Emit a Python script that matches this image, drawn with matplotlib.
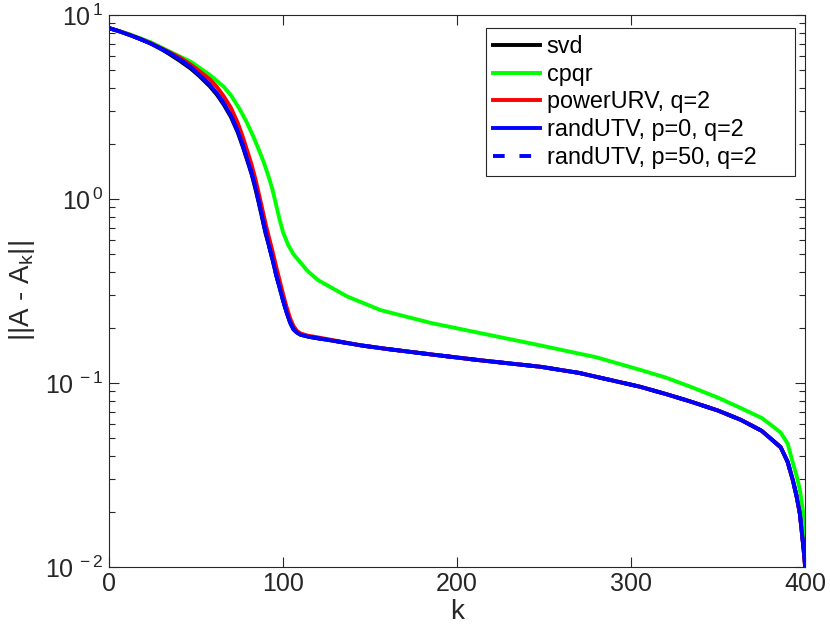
import numpy as np
import matplotlib
matplotlib.use('Agg')
import matplotlib.pyplot as plt
from matplotlib.ticker import LogLocator, FixedLocator, NullFormatter

plt.rcParams['font.family'] = ['Liberation Sans', 'DejaVu Sans']
plt.rcParams['mathtext.fontset'] = 'custom'
plt.rcParams['mathtext.rm'] = 'Liberation Sans'
plt.rcParams['mathtext.default'] = 'regular'

# values
k_utv = [0, 6, 12, 18, 24, 30, 35, 41, 47, 52, 58, 62, 66, 70, 74, 77, 80, 82, 84, 86, 88, 90,
         92, 94, 96, 98, 100, 102, 104, 106, 108, 110, 114, 120, 130, 145, 160, 185, 213, 248,
         270, 305, 320, 334, 350, 363, 375, 380, 386, 390, 393, 395, 397, 399, 400]
utv_p0 = [8.49, 8.15, 7.78, 7.40, 7.00, 6.55, 6.19, 5.71, 5.20, 4.73, 4.17, 3.76, 3.31, 2.85,
          2.34, 1.95, 1.58, 1.38, 1.175, 0.977, 0.804, 0.661, 0.555, 0.468, 0.389, 0.331, 0.282,
          0.243, 0.214, 0.196, 0.188, 0.183, 0.179, 0.175, 0.169, 0.160, 0.153, 0.143, 0.133,
          0.1225, 0.1135, 0.0955, 0.0871, 0.0794, 0.0708, 0.0631, 0.0550, 0.0501, 0.0447, 0.0372,
          0.0295, 0.0245, 0.0195, 0.0129, 0.0101]
utv_p50 = list(utv_p0)

power_urv = [8.49, 8.16, 7.80, 7.42, 7.03, 6.60, 6.26, 5.85, 5.37, 4.95, 4.47, 4.07, 3.61, 3.14,
             2.59, 2.16, 1.76, 1.53, 1.30, 1.08, 0.891, 0.733, 0.615, 0.519, 0.432, 0.363, 0.305,
             0.260, 0.226, 0.204, 0.192, 0.186, 0.181, 0.177, 0.170, 0.160, 0.153, 0.143, 0.133,
             0.1225, 0.1135, 0.0955, 0.0871, 0.0794, 0.0708, 0.0631, 0.0550, 0.0501, 0.0447,
             0.0372, 0.0295, 0.0245, 0.0195, 0.0129, 0.0101]

svd = [8.49, 8.15, 7.78, 7.40, 6.99, 6.53, 6.11, 5.61, 5.11, 4.65, 4.09, 3.69, 3.25, 2.80,
       2.30, 1.91, 1.56, 1.36, 1.15, 0.959, 0.789, 0.649, 0.555, 0.468, 0.389, 0.331, 0.282,
       0.243, 0.214, 0.196, 0.188, 0.183, 0.179, 0.175, 0.169, 0.160, 0.153, 0.143, 0.133,
       0.1225, 0.1135, 0.0955, 0.0871, 0.0794, 0.0708, 0.0631, 0.0550, 0.0501, 0.0447, 0.0372,
       0.0295, 0.0245, 0.0195, 0.0129, 0.0101]

k_cpqr = [0, 12, 24, 35, 47, 58, 66, 70, 75, 79, 83, 86, 89, 92, 94, 96, 98, 100, 103, 106, 110,
          114, 120, 127, 137, 156, 185, 213, 248, 259, 280, 305, 320, 334, 350, 363, 375, 380,
          386, 390, 393, 395, 397, 399, 400]
cpqr = [8.49, 7.85, 7.11, 6.32, 5.57, 4.72, 4.07, 3.67, 3.09, 2.63, 2.18, 1.86, 1.58, 1.30, 1.12,
        0.933, 0.776, 0.661, 0.562, 0.501, 0.452, 0.407, 0.363, 0.333, 0.295, 0.249, 0.212, 0.187,
        0.160, 0.152, 0.138, 0.118, 0.107, 0.0955, 0.0832, 0.0731, 0.0646, 0.0596, 0.0537,
        0.0468, 0.0367, 0.0316, 0.0263, 0.0195, 0.0129]

labels = ['svd', 'cpqr', 'powerURV, q=2', 'randUTV, p=0, q=2', 'randUTV, p=50, q=2']
xticks = [0, 100, 200, 300, 400]
yticks = [1e-2, 1e-1, 1e0, 1e1]
ytick_labels = [r'$10^{\,-2}$', r'$10^{\,-1}$', r'$10^{\,0}$', r'$10^{\,1}$']

dark = '#262626'
fig = plt.figure(figsize=(8.3, 6.36), dpi=100)
ax = fig.add_axes([0.1313, 0.1085, 0.8387, 0.8679])

lw = 2.8
ax.semilogy(k_utv, svd, color='black', lw=lw, label=labels[0])
ax.semilogy(k_cpqr, cpqr, color='#00ff00', lw=lw, label=labels[1])
ax.semilogy(k_utv, power_urv, color='red', lw=lw, label=labels[2])
ax.semilogy(k_utv, utv_p0, color='blue', lw=lw, label=labels[3])
ax.semilogy(k_utv, utv_p50, color='blue', lw=lw, ls=(0, (3, 3.8)), label=labels[4])

ax.set_xlim(0, 400)
ax.set_ylim(1e-2, 1e1)
ax.xaxis.set_major_locator(FixedLocator(xticks))
ax.yaxis.set_major_locator(FixedLocator(yticks))
ax.set_yticklabels(ytick_labels)
ax.yaxis.set_minor_locator(LogLocator(base=10, subs=np.arange(2, 10)))
ax.yaxis.set_minor_formatter(NullFormatter())

ax.tick_params(which='both', direction='in', top=True, right=True, colors=dark,
               labelsize=18, width=0.8)
ax.tick_params(which='major', length=7)
ax.tick_params(which='minor', length=4)
for s in ax.spines.values():
    s.set_color(dark)
    s.set_linewidth(0.8)

ax.set_xlabel('k', fontsize=20, color=dark, labelpad=2)
ax.set_ylabel('||A - A$_{k}$||', fontsize=20, color=dark, labelpad=6)

leg = ax.legend(loc='upper left', bbox_to_anchor=(0.5417, 0.0, 0.4439, 0.9764), mode='expand',
                borderaxespad=0.0, fontsize=16.8, handlelength=2.0, handletextpad=0.3,
                fancybox=False, framealpha=1, labelspacing=0.2, borderpad=0.3)
leg.get_frame().set_edgecolor(dark)
leg.get_frame().set_linewidth(0.8)

fig.savefig('out.png', dpi=100)
